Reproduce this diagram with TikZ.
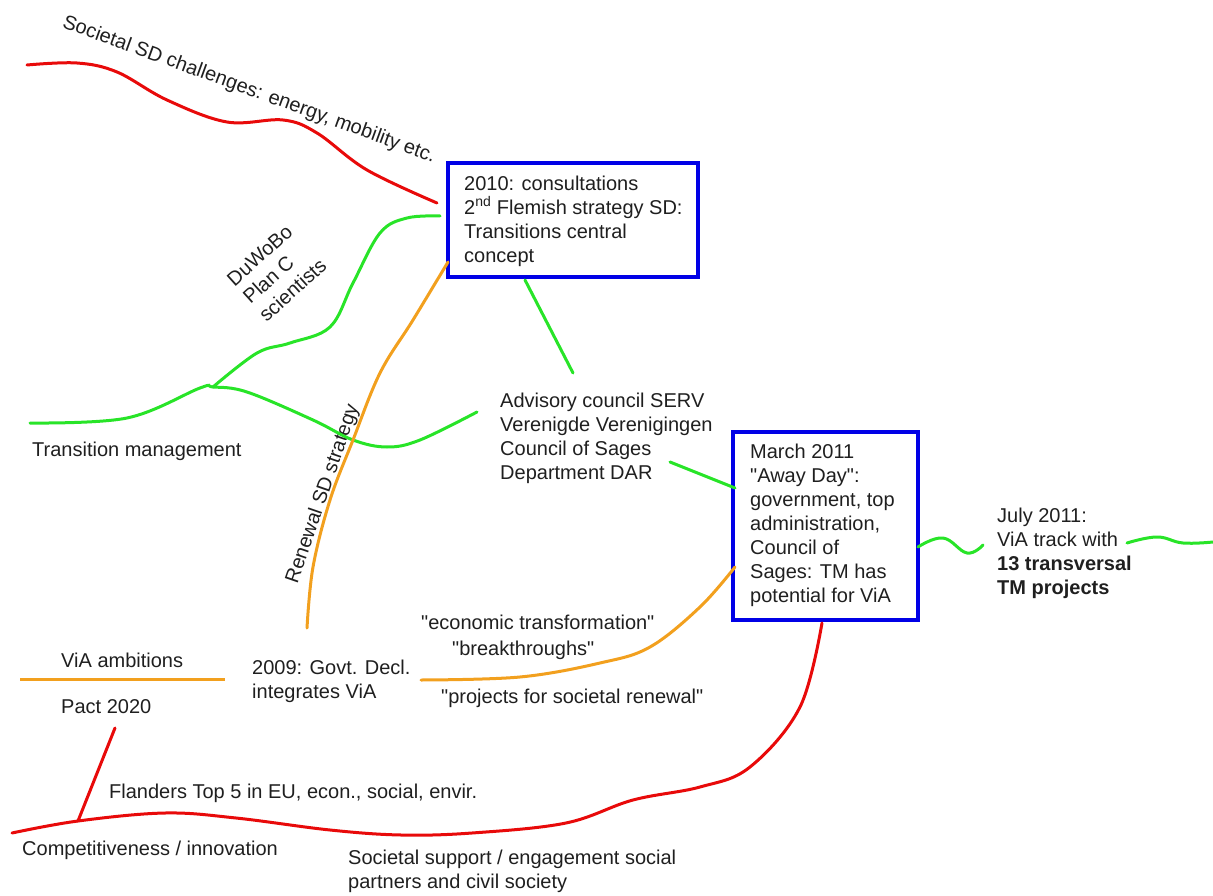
\documentclass[tikz,border=0pt]{standalone}
\usepackage{fontspec}
\setmainfont{Liberation Sans}
\definecolor{cred}{RGB}{232,10,10}
\definecolor{cgreen}{RGB}{40,228,40}
\definecolor{corange}{RGB}{242,160,30}
\definecolor{cblue}{RGB}{0,0,230}
\newcommand{\sq}{\textquotedbl}
\tikzset{
  txt/.style={font=\fontsize{20}{24}\selectfont, inner sep=0pt, text=black!88, align=left},
  bluebox/.style={draw=cblue, line width=4pt, fill=none, inner sep=0pt},
  redln/.style={draw=cred, line width=3pt, line cap=round},
  greenln/.style={draw=cgreen, line width=3pt, line cap=round},
  orangeln/.style={draw=corange, line width=3pt, line cap=round},
}
\begin{document}
\begin{tikzpicture}[x=1pt,y=-1pt]
\useasboundingbox (0,0) rectangle (1213,896);

% boxes
\node[bluebox, minimum width=250pt, minimum height=114pt] (b1) at (573,220) {};
\node[txt, anchor=west] (b1t) at (464,221) {2010: consultations\\2\textsuperscript{nd} Flemish strategy SD:\\Transitions central\\concept};
\node[bluebox, minimum width=185pt, minimum height=188pt] (b2) at (825.5,526) {};
\node[txt, anchor=west] (b2t) at (750,525) {March 2011\\\sq Away Day\sq:\\government, top\\administration,\\Council of\\Sages: TM has\\potential for ViA};

% text nodes
\node[txt, anchor=west] (july) at (997,553) {July 2011:\\ViA track with\\\textbf{13 transversal}\\\textbf{TM projects}};
\node[txt, anchor=west] (adv) at (500,438) {Advisory council SERV\\Verenigde Verenigingen\\Council of Sages\\Department DAR};
\node[txt, anchor=west] (tm) at (32,451) {Transition management};
\node[txt, rotate=-20] (soc) at (249,90) {Societal SD challenges: energy, mobility etc.};
\node[txt, rotate=42, anchor=west] (duwo) at (246,300) {DuWoBo\\Plan C\\scientists};
\node[txt, rotate=71] (ren) at (323,494) {Renewal SD strategy};
\node[txt, anchor=west] (via) at (61,660) {ViA ambitions};
\node[txt, anchor=west] (pact) at (61,707) {Pact 2020};
\node[txt, anchor=west] (govt) at (252,681) {2009: Govt. Decl.\\integrates ViA};
\node[txt, anchor=west] (econ) at (421,622) {\sq economic transformation\sq};
\node[txt, anchor=west] (break) at (452,650) {\sq breakthroughs\sq};
\node[txt, anchor=west] (proj) at (441,698) {\sq projects for societal renewal\sq};
\node[txt, anchor=west] (fland) at (109,793) {Flanders Top 5 in EU, econ., social, envir.};
\node[txt, anchor=west] (comp) at (22,850) {Competitiveness / innovation};
\node[txt, anchor=west] (supp) at (348,871) {Societal support / engagement social\\partners and civil society};

% named end points
\coordinate (redstart) at (27,65);
\coordinate (b1red) at (437,203);
\coordinate (b1green) at (440,216);
\coordinate (branch) at (213,387);
\coordinate (tmstart) at (30,423);
\coordinate (advgreen) at (477,412);
\coordinate (b1orange) at (448,262);
\coordinate (renend) at (307,628);
\coordinate (b1bot) at (525,280);
\coordinate (advtop) at (573,373);
\coordinate (advright) at (670,462);
\coordinate (b2green) at (735,488);
\coordinate (govtright) at (421,680);
\coordinate (b2orange) at (735,567);
\coordinate (pactbot) at (115,728);
\coordinate (compjoin) at (78,821);
\coordinate (redleft) at (12,833);
\coordinate (b2red) at (822,623);
\coordinate (b2right) at (918,547);
\coordinate (julyleft) at (983,545);
\coordinate (julyright) at (1127,543);
\coordinate (rightend) at (1213,542);
\coordinate (vialeft) at (20,679);
\coordinate (viaright) at (225,679);

% red top
\draw[redln] plot[smooth, tension=0.6] coordinates {(redstart) (77,63) (117,72) (167,100) (227,122) (283,120) (317,133) (367,170) (b1red)};
% green from box1 to branch
\draw[greenln] plot[smooth, tension=0.6] coordinates {(b1green) (407,218) (380,233) (353,283) (330,327) (290,343) (257,353) (branch)};
% transition management green
\draw[greenln] plot[smooth, tension=0.6] coordinates {(tmstart) (127,418) (200,388) (branch) (247,392) (313,420) (353,440) (387,447) (420,440) (advgreen)};
% orange renewal
\draw[orangeln] plot[smooth, tension=0.6] coordinates {(b1orange) (413,320) (380,373) (353,440) (330,500) (313,567) (renend)};
% green box1 to advisory
\draw[greenln] (b1bot) -- (advtop);
\draw[greenln] (advright) -- (b2green);
% orange from 2009 to box2
\draw[orangeln] plot[smooth, tension=0.6] coordinates {(govtright) (520,677) (600,663) (650,647) (700,607) (b2orange)};
% ViA line
\draw[orangeln, line cap=butt] (vialeft) -- (viaright);
% red pact
\draw[redln] (pactbot) -- (compjoin);
% red bottom
\draw[redln] plot[smooth, tension=0.6] coordinates {(redleft) (compjoin) (165,813) (236,818) (330,830) (401,835) (472,833) (566,823) (633,800) (700,787) (750,767) (800,707) (b2red)};
% green wavy right
\draw[greenln] plot[smooth, tension=0.7] coordinates {(b2right) (943,538) (967,553) (julyleft)};
\draw[greenln] plot[smooth, tension=0.7] coordinates {(julyright) (1157,537) (1183,543) (rightend)};
\end{tikzpicture}
\end{document}
